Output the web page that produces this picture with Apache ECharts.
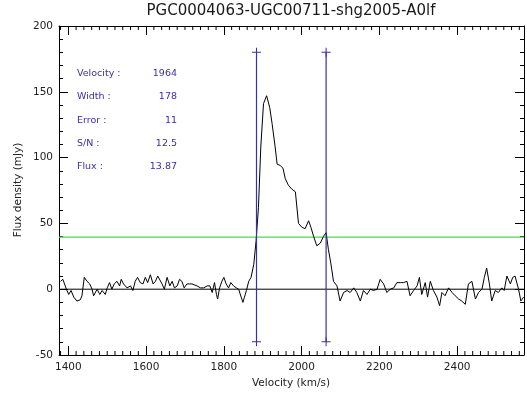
<!DOCTYPE html>
<html>
<head>
<meta charset="utf-8">
<script src="https://cdn.jsdelivr.net/npm/echarts@6/dist/echarts.min.js"></script>
<style>html,body{margin:0;padding:0;background:#fff}#c{width:527px;height:394px}</style>
</head>
<body>
<div id="c"></div>
<script>
const titleText = 'PGC0004063-UGC00711-shg2005-A0lf';
const xTitle = 'Velocity (km/s)';
const yTitle = 'Flux density (mJy)';
const velocity = [1380,1386,1390,1395,1401,1407,1414,1422,1431,1435,1441,1448,1455,1461,1465,1474,1481,1487,1495,1500,1506,1512,1518,1525,1532,1536,1542,1551,1560,1566,1572,1578,1585,1592,1598,1604,1611,1618,1624,1630,1635,1641,1647,1654,1661,1667,1673,1680,1686,1692,1698,1705,1712,1718,1722,1731,1740,1748,1757,1764,1770,1776,1781,1784,1789,1795,1800,1806,1812,1818,1825,1832,1838,1842,1849,1853,1858,1864,1870,1877,1883,1889,1895,1902,1910,1918,1924,1932,1937,1945,1952,1958,1966,1975,1984,1992,2001,2009,2018,2024,2031,2039,2048,2056,2063,2069,2075,2082,2091,2099,2108,2117,2125,2134,2142,2151,2159,2168,2177,2185,2194,2202,2211,2219,2228,2237,2245,2254,2262,2271,2279,2288,2297,2303,2309,2318,2324,2331,2339,2348,2355,2361,2369,2378,2387,2395,2404,2412,2421,2429,2438,2447,2455,2464,2470,2476,2483,2489,2498,2506,2515,2521,2528,2537,2543,2549,2558,2564,2571];
const flux = [6,7.5,9,0,-4,-1,-6,-9,-8,-5,9,6,4,0,-5,0,-4,-1,-4,1,5,0,4,6,2.5,7.5,4,1,2.5,-1,6,9,5,4,9,5,11,4,6,10,11,4,0,9,2.5,6,1,2.5,7.5,6,1,4,4,4,2.5,2.5,1,1,2.5,2.5,-2.5,5,-4,-7.5,1,6,9,4,1,5,2.5,1,0,1,-10,-6,-1,6,9,19,37,62,108,141,147,138,126,108,95,94,92,84,79,76,74,50,47,46,52,47,40,33,35,40,43,30,20,6,2.5,-9,-2.5,-1,-2.5,1,-2.5,-9,-1,-4,0,-1,0,7.5,4,-2.5,0,1,5,5,5,6,-5,-1,2.5,9,-4,5,-6,6,-1,-6,-12.5,-2.5,-5,1,-2.5,-5,-7.5,-9,-11.5,4,6,-7.5,-2.5,0,9,16,4,-9,-1,-2.5,1,-1,10,4,9,10,0,-9,-6];
const xMin = 1376, xMax = 2572;
const yMin = -50, yMax = 200, yStep = 50;
const xMajorTicks = [1400,1600,1800,2000,2200,2400];
const xMinorStep = 20;
const markerVel = [1884, 2063];
const markerTop = 180, markerBottom = -40;
const baseline = 0;
const threshold = 39.5;
const annotLabels = ['Velocity :','Width :','Error :','S/N :','Flux :'];
const annotValues = ['1964','178','11','12.5','13.87'];

const xMinorTicks = [];
for (let v = Math.ceil(xMin / xMinorStep) * xMinorStep; v <= xMax; v += xMinorStep) {
  if (xMajorTicks.indexOf(v) < 0) xMinorTicks.push(v);
}

const FONT = 'DejaVu Sans';
const BLUE = '#3a2fa8';
const GREEN = '#4bdc4b';
const plusPath = 'path://M-5,-0.55H5V0.55H-5Z M-0.55,-5H0.55V5H-0.55Z';

function xAx(pos, labels) {
  return {
    type: 'value', position: pos, min: xMin, max: xMax,
    axisLine: {show: true, onZero: false, lineStyle: {color: '#000', width: 1}},
    axisTick: {show: true, inside: true, length: 9, customValues: xMajorTicks, lineStyle: {color: '#000', width: 1}},
    axisLabel: labels ? {show: true, customValues: xMajorTicks, margin: 7, color: '#222', fontFamily: FONT, fontSize: 10.5, formatter: v => String(v)} : {show: false},
    splitLine: {show: false}
  };
}
function yAx(pos, labels) {
  return {
    type: 'value', position: pos, min: yMin, max: yMax, interval: yStep,
    axisLine: {show: true, onZero: false, lineStyle: {color: '#000', width: 1}},
    axisTick: {show: true, inside: true, length: 9, lineStyle: {color: '#000', width: 1}},
    minorTick: {show: true, splitNumber: 5, length: 4, lineStyle: {color: '#000', width: 1}},
    axisLabel: labels ? {show: true, margin: 6, color: '#222', fontFamily: FONT, fontSize: 10.5} : {show: false},
    splitLine: {show: false}, minorSplitLine: {show: false}
  };
}

const series = [
  {
    type: 'line', xAxisIndex: 0, yAxisIndex: 0, silent: true,
    data: [[xMin, threshold], [xMax, threshold]],
    showSymbol: false, symbol: 'none', lineStyle: {color: GREEN, width: 1.2}, z: 2
  },
  {
    type: 'line', xAxisIndex: 1, yAxisIndex: 1, silent: true,
    data: [[xMin, baseline], [xMax, baseline]],
    showSymbol: false, symbol: 'none', lineStyle: {color: '#000', width: 1}, z: 2
  },
  {
    type: 'line', xAxisIndex: 0, yAxisIndex: 0,
    data: velocity.map((v, i) => [v, flux[i]]),
    showSymbol: false, symbol: 'none', silent: true,
    lineStyle: {color: '#000', width: 1}, z: 3
  },
  {
    type: 'custom', xAxisIndex: 0, yAxisIndex: 0, silent: true, clip: false, z: 5,
    data: xMinorTicks.map(v => [v, yMin]),
    encode: {x: 0, y: 1},
    renderItem: function (params, api) {
      const b = api.coord([api.value(0), yMin]);
      const t = api.coord([api.value(0), yMax]);
      const st = {stroke: '#000', lineWidth: 1};
      return {type: 'group', children: [
        {type: 'line', shape: {x1: b[0], y1: b[1], x2: b[0], y2: b[1] - 4}, style: st},
        {type: 'line', shape: {x1: t[0], y1: t[1], x2: t[0], y2: t[1] + 4}, style: st}
      ]};
    }
  }
];
markerVel.forEach(v => {
  series.push({
    type: 'line', xAxisIndex: 1, yAxisIndex: 1, silent: true,
    data: [[v, markerBottom], [v, markerTop]],
    showSymbol: true, symbol: plusPath, symbolSize: 9,
    itemStyle: {color: BLUE}, lineStyle: {color: BLUE, width: 1.2}, z: 4
  });
});

const graphic = [
  {type: 'text', x: 291, y: 11, style: {text: titleText, font: '15px "' + FONT + '"', fill: '#1a1a1a', align: 'center', verticalAlign: 'middle'}},
  {type: 'text', x: 291, y: 383, style: {text: xTitle, font: '10.5px "' + FONT + '"', fill: '#222', align: 'center', verticalAlign: 'middle'}},
  {type: 'text', x: 18, y: 190, rotation: Math.PI / 2, style: {text: yTitle, font: '10.5px "' + FONT + '"', fill: '#222', align: 'center', verticalAlign: 'middle'}}
];
const rowsY = [74, 97, 121, 144, 167];
annotLabels.forEach((t, i) => {
  graphic.push({type: 'text', x: 77, y: rowsY[i], style: {text: t, font: '9.5px "' + FONT + '"', fill: BLUE, align: 'left', verticalAlign: 'middle'}});
  graphic.push({type: 'text', x: 177, y: rowsY[i], style: {text: annotValues[i], font: '9.5px "' + FONT + '"', fill: BLUE, align: 'right', verticalAlign: 'middle'}});
});

const chart = echarts.init(document.getElementById('c'), null, {renderer: 'canvas'});
chart.setOption({
  animation: false,
  backgroundColor: '#fff',
  grid: {left: 59, right: 3, top: 26, bottom: 39},
  xAxis: [xAx('bottom', true), xAx('top', false)],
  yAxis: [yAx('left', true), yAx('right', false)],
  series: series,
  graphic: graphic
});
</script>
</body>
</html>
